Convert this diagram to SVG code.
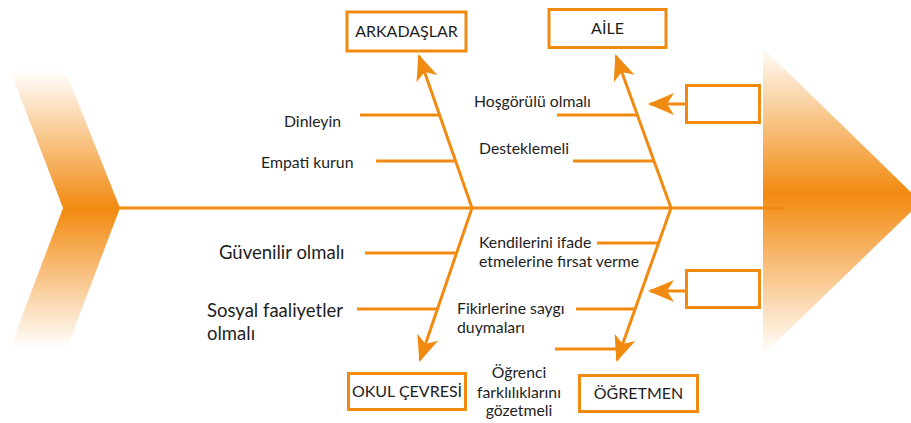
<svg xmlns="http://www.w3.org/2000/svg" width="911" height="423" viewBox="0 0 911 423">
<defs>
<linearGradient id="gL" gradientUnits="userSpaceOnUse" x1="0" y1="70" x2="0" y2="348">
<stop offset="0" stop-color="#F28A10" stop-opacity="0"/>
<stop offset="0.5" stop-color="#F28A10" stop-opacity="1"/>
<stop offset="1" stop-color="#F28A10" stop-opacity="0"/>
</linearGradient>
<linearGradient id="gR" gradientUnits="userSpaceOnUse" x1="0" y1="45" x2="0" y2="355">
<stop offset="0" stop-color="#F28A10" stop-opacity="0"/>
<stop offset="0.48" stop-color="#F28A10" stop-opacity="1"/>
<stop offset="1" stop-color="#F28A10" stop-opacity="0"/>
</linearGradient>
<marker id="ah" markerUnits="userSpaceOnUse" markerWidth="40" markerHeight="30" viewBox="-30 -15 40 30" refX="0" refY="0" orient="auto">
<path d="M2,0 L-24,-11 L-17,0 L-24,11 Z" fill="#F18A11"/>
</marker>
<style>
.ln{stroke:#F18A11;stroke-width:3;fill:none}
.bx{stroke:#F18A11;stroke-width:3;fill:#fff}
.t{font-family:Lato,"Noto Sans",sans-serif;fill:#1e1e1e;font-size:15.8px}
.tb{font-family:Lato,"Noto Sans",sans-serif;fill:#1e1e1e;font-size:18.5px}
.th{font-family:Lato,"Noto Sans",sans-serif;fill:#1e1e1e;font-size:16px;text-anchor:middle}
</style>
</defs>
<g id="head-tail">
<polygon points="10,70 65,70 120,208 67,348 10,348 63,208" fill="url(#gL)"/>
<polygon points="763,48 921,202 763,355" fill="url(#gR)"/>
</g>
<g id="connectors">
<line class="ln" x1="100" y1="208" x2="785" y2="208"/>
<line class="ln" x1="472" y1="208" x2="419" y2="56" marker-end="url(#ah)"/>
<line class="ln" x1="671" y1="208" x2="616" y2="56" marker-end="url(#ah)"/>
<line class="ln" x1="472" y1="208" x2="420" y2="360" marker-end="url(#ah)"/>
<line class="ln" x1="671" y1="208" x2="617" y2="360" marker-end="url(#ah)"/>
<line class="ln" x1="360" y1="115" x2="440" y2="115"/>
<line class="ln" x1="376" y1="161" x2="456" y2="161"/>
<line class="ln" x1="557" y1="115" x2="637" y2="115"/>
<line class="ln" x1="573" y1="161" x2="654" y2="161"/>
<line class="ln" x1="365" y1="253" x2="457" y2="253"/>
<line class="ln" x1="357" y1="309" x2="438" y2="309"/>
<line class="ln" x1="597" y1="243" x2="659" y2="243"/>
<line class="ln" x1="576" y1="309" x2="635" y2="309"/>
<line class="ln" x1="555" y1="349" x2="621" y2="349"/>
<line class="ln" x1="686" y1="104" x2="650" y2="104" marker-end="url(#ah)"/>
<line class="ln" x1="686" y1="291" x2="650" y2="291" marker-end="url(#ah)"/>
</g>
<g id="arkadaslar">
<rect class="bx" x="347" y="12" width="119" height="39"/>
<text class="th" x="406.5" y="37">ARKADAŞLAR</text>
</g>
<g id="aile">
<rect class="bx" x="549" y="9.5" width="117" height="38"/>
<text class="th" x="607.5" y="34">AİLE</text>
</g>
<g id="okul-cevresi">
<rect class="bx" x="348.5" y="373.5" width="117" height="36"/>
<text class="th" x="407" y="396.5">OKUL ÇEVRESİ</text>
</g>
<g id="ogretmen">
<rect class="bx" x="579.5" y="375.5" width="118" height="36"/>
<text class="th" x="638.5" y="398.5">ÖĞRETMEN</text>
</g>
<g id="empty-box-1">
<rect class="bx" x="686.5" y="85.5" width="73" height="37"/>
</g>
<g id="empty-box-2">
<rect class="bx" x="686.5" y="270.5" width="73" height="37"/>
</g>
<g id="labels">
<text class="t" x="284" y="127">Dinleyin</text>
<text class="t" x="261" y="168">Empati kurun</text>
<text class="t" x="474" y="107">Hoşgörülü olmalı</text>
<text class="t" x="479" y="154">Desteklemeli</text>
<text class="tb" x="219" y="259">Güvenilir olmalı</text>
<text class="tb" x="207" y="317">Sosyal faaliyetler</text>
<text class="tb" x="207" y="340">olmalı</text>
<text class="t" x="479" y="248">Kendilerini ifade</text>
<text class="t" x="479" y="267">etmelerine fırsat verme</text>
<text class="t" x="457" y="314">Fikirlerine saygı</text>
<text class="t" x="457" y="333">duymaları</text>
<text class="t" x="519" y="378" text-anchor="middle">Öğrenci</text>
<text class="t" x="519" y="398" text-anchor="middle">farklılıklarını</text>
<text class="t" x="519" y="416" text-anchor="middle">gözetmeli</text>
</g>
</svg>
